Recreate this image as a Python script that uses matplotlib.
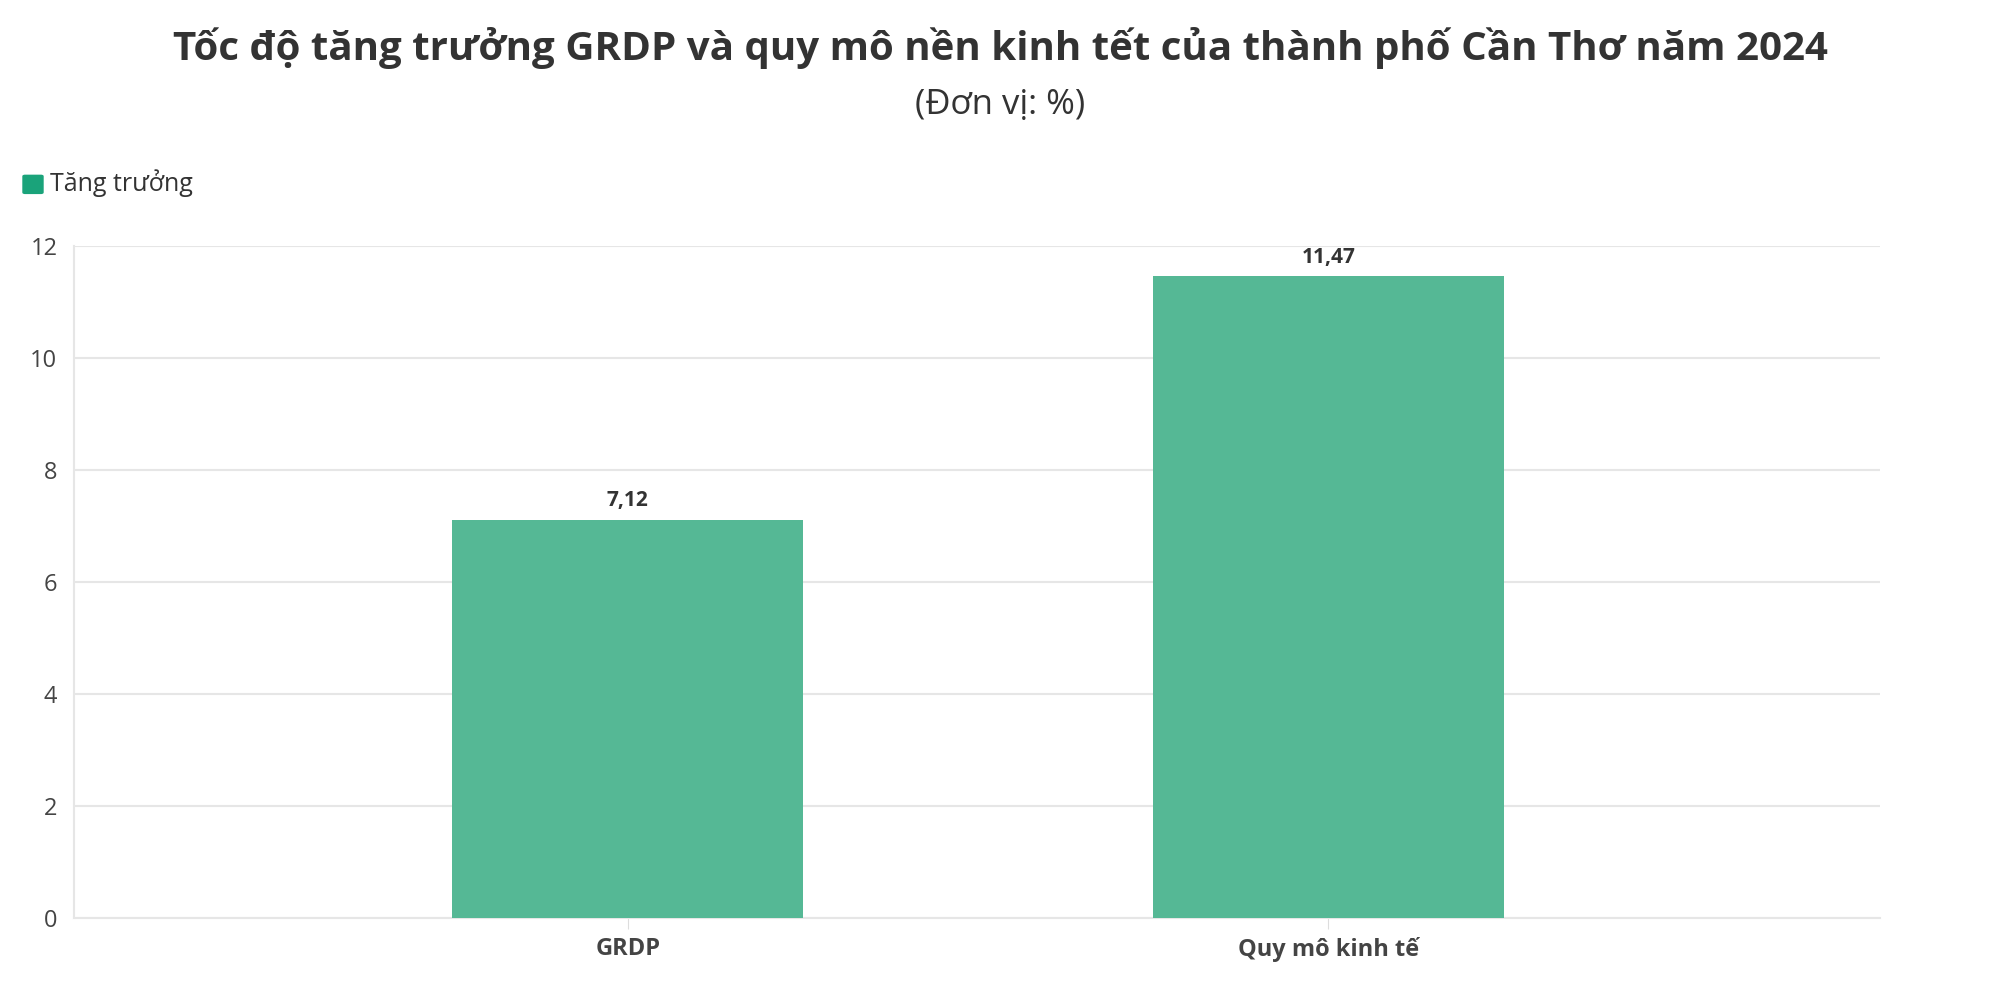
import matplotlib
matplotlib.use("Agg")
import matplotlib.pyplot as plt

categories = ["GRDP", "Quy mô kinh tế"]
values = [7.12, 11.47]
labels = ["7,12", "11,47"]
yticks = [0, 2, 4, 6, 8, 10, 12]

plt.rcParams['font.family'] = ['Open Sans', 'DejaVu Sans']
fig = plt.figure(figsize=(20, 10.02), dpi=100)
ax = fig.add_axes([0.037, 0.084, 0.903, 0.67])
x = range(len(categories))
ax.bar(x, values, width=0.5, color="#55b895", zorder=3)
for i, (v, l) in enumerate(zip(values, labels)):
    ax.annotate(l, (i, v), xytext=(0, 6), textcoords="offset points",
                ha="center", va="bottom", fontsize=15, fontweight="bold", color="#333333")
ax.set_xlim(-0.79, 1.787)
ax.set_ylim(0, 12)
ax.set_yticks(yticks)
ax.set_yticklabels([str(t) for t in yticks], fontsize=17, color="#444444")
ax.set_xticks(list(x))
ax.set_xticklabels(categories, fontsize=17, fontweight="bold", color="#444444")
ax.tick_params(axis="y", length=0, pad=12)
ax.tick_params(axis="x", length=8, color="#dddddd", pad=6)
ax.grid(axis="y", color="#e6e6e6", linewidth=1.5, zorder=0)
for s in ["top", "right"]:
    ax.spines[s].set_visible(False)
ax.spines["left"].set_color("#e6e6e6")
ax.spines["bottom"].set_color("#e6e6e6")
ax.spines["left"].set_linewidth(1.5)
ax.spines["bottom"].set_linewidth(1.5)

fig.text(0.5, 0.952, "Tốc độ tăng trưởng GRDP và quy mô nền kinh tết của thành phố Cần Thơ năm 2024",
         ha="center", va="center", fontsize=29, fontweight="bold", color="#333333")
fig.text(0.5, 0.895, "(Đơn vị: %)", ha="center", va="center", fontsize=25, color="#333333")
fig.patches.append(matplotlib.patches.FancyBboxPatch((0.0125, 0.808), 0.008, 0.016,
    boxstyle="round,pad=0.001", transform=fig.transFigure, color="#1aa37a"))
fig.text(0.025, 0.817, "Tăng trưởng", ha="left", va="center", fontsize=18, color="#333333")
fig.savefig("out.png", dpi=100, facecolor="white")
